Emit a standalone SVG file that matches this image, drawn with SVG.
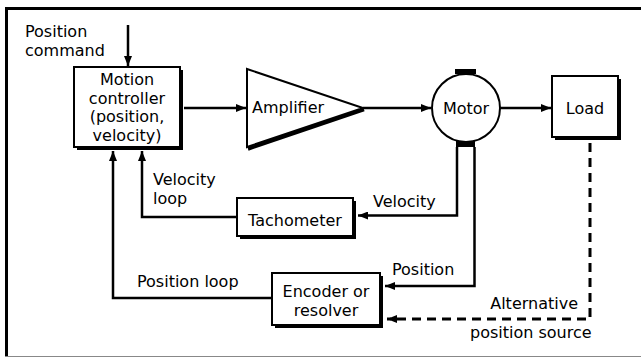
<svg xmlns="http://www.w3.org/2000/svg" width="641" height="358" viewBox="0 0 641 358">
<style>
text{font-family:"DejaVu Sans",Verdana,sans-serif;font-size:16px;fill:#000}
.box{fill:#fff;stroke:#000;stroke-width:2}
.sh{fill:#000}
.ln{fill:none;stroke:#000;stroke-width:2.5}
.dash{fill:none;stroke:#000;stroke-width:3;stroke-dasharray:9 6}
.m{text-anchor:middle}
.e{text-anchor:end}
</style>
<defs>
<marker id="ah" viewBox="0 0 10 8" refX="10" refY="4" markerWidth="10" markerHeight="8" markerUnits="userSpaceOnUse" orient="auto">
<path d="M0,0 L10,4 L0,8 z" fill="#000"/>
</marker>
</defs>
<rect x="0" y="0" width="641" height="358" fill="#fff"/>
<g id="frame">
<line x1="5" y1="8.5" x2="641" y2="8.5" stroke="#000" stroke-width="3"/>
<line x1="6.5" y1="7" x2="6.5" y2="357" stroke="#000" stroke-width="3"/>
<line x1="5" y1="356.5" x2="641" y2="356.5" stroke="#888" stroke-width="1"/>
</g>
<g id="connectors">
<line class="ln" x1="128" y1="25" x2="128" y2="66" marker-end="url(#ah)"/>
<line class="ln" x1="184" y1="108" x2="246" y2="108" marker-end="url(#ah)"/>
<line class="ln" x1="363" y1="108" x2="431" y2="108" marker-end="url(#ah)"/>
<line class="ln" x1="500" y1="108" x2="551" y2="108" marker-end="url(#ah)"/>
<path class="ln" d="M457,147 V215.5 H358" marker-end="url(#ah)"/>
<path class="ln" d="M474.5,147 V286 H385" marker-end="url(#ah)"/>
<path class="ln" d="M236,217 H142 V151" marker-end="url(#ah)"/>
<path class="ln" d="M272,298 H113 V151" marker-end="url(#ah)"/>
<path class="dash" d="M590,143 V319 H387" marker-end="url(#ah)"/>
</g>
<g id="controller">
<rect class="sh" x="77" y="70" width="106" height="80"/>
<rect class="box" x="74" y="67" width="106" height="80"/>
<text class="m" x="127" y="85">Motion<tspan x="127" dy="18.7">controller</tspan><tspan x="127" dy="18.7">(position,</tspan><tspan x="127" dy="18.7">velocity)</tspan></text>
</g>
<g id="amplifier">
<line x1="248" y1="149" x2="364" y2="109.5" stroke="#000" stroke-width="3.5"/>
<polygon class="box" points="247,69 363,108 247,147"/>
<text x="252" y="113">Amplifier</text>
</g>
<g id="motor">
<rect x="455" y="69" width="21" height="5" fill="#000"/>
<rect x="456" y="141" width="19" height="6" fill="#000"/>
<circle class="box" cx="466" cy="108" r="34"/>
<text class="m" x="466" y="114">Motor</text>
</g>
<g id="load">
<rect class="sh" x="555" y="79" width="66" height="61"/>
<rect class="box" x="552" y="76" width="66" height="61"/>
<text class="m" x="585" y="114">Load</text>
</g>
<g id="tachometer">
<rect class="sh" x="240" y="201" width="116" height="38"/>
<rect class="box" x="237" y="198" width="116" height="38"/>
<text class="m" x="295" y="226">Tachometer</text>
</g>
<g id="encoder">
<rect class="sh" x="275" y="276" width="108" height="52"/>
<rect class="box" x="272" y="273" width="108" height="52"/>
<text class="m" x="326" y="297">Encoder or<tspan x="326" dy="18.7">resolver</tspan></text>
</g>
<g id="labels">
<text x="25" y="37">Position<tspan x="25" dy="18.7">command</tspan></text>
<text x="153" y="185">Velocity<tspan x="153" dy="18.7">loop</tspan></text>
<text x="373" y="207">Velocity</text>
<text x="392" y="275">Position</text>
<text x="137" y="287">Position loop</text>
<text class="e" x="578" y="309">Alternative</text>
<text x="470" y="338">position source</text>
</g>
</svg>
